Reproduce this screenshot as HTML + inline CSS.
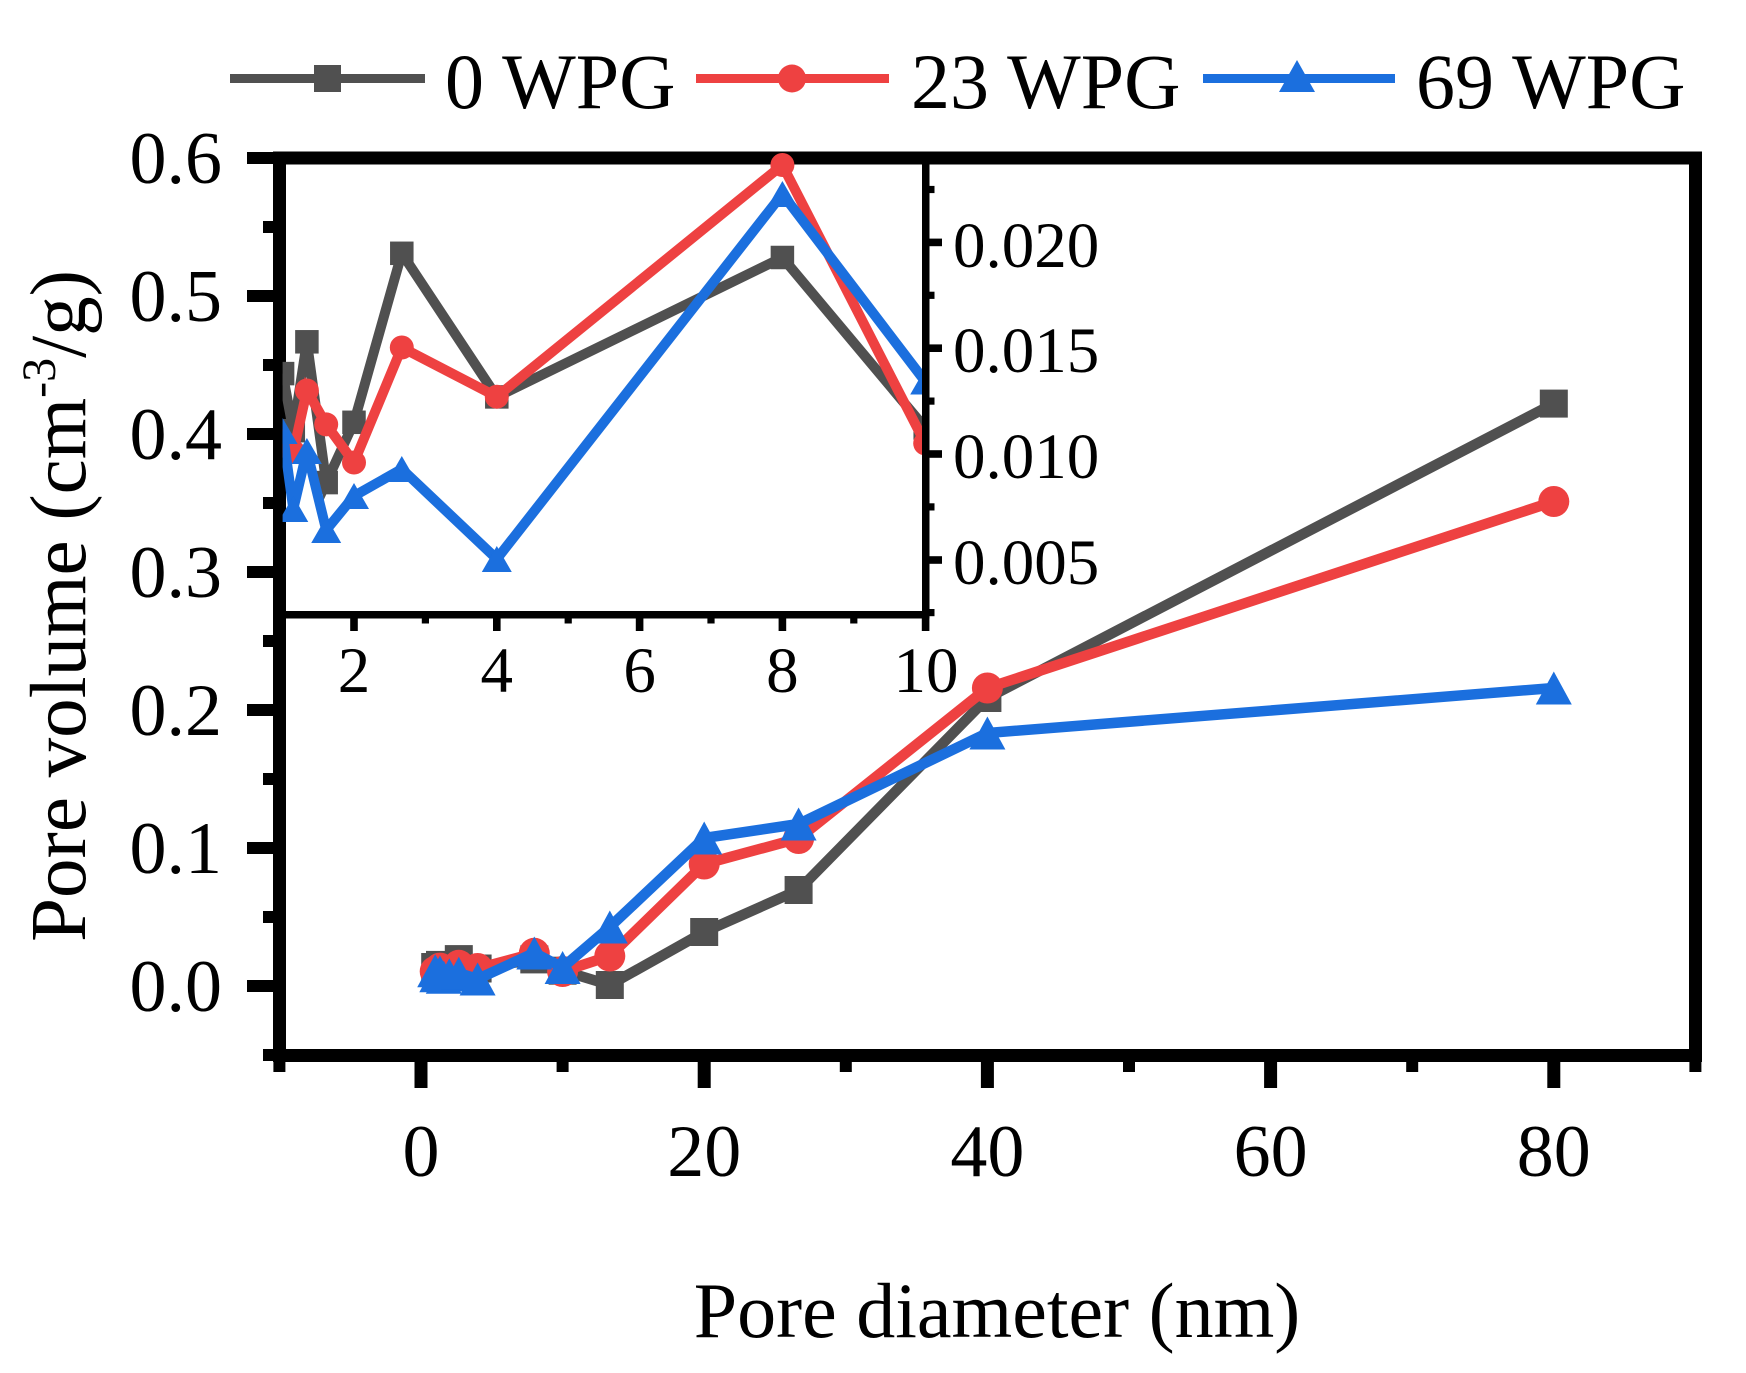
<!DOCTYPE html>
<html>
<head>
<meta charset="utf-8">
<style>
html,body{margin:0;padding:0;background:#fff;}
svg{display:block;}
text{font-family:"Liberation Serif","Times New Roman",serif;fill:#000;}
</style>
</head>
<body>
<svg width="1746" height="1373" viewBox="0 0 1746 1373" xmlns="http://www.w3.org/2000/svg">
<defs>
  <clipPath id="insetClip"><rect x="282.6" y="140" width="643" height="474.5"/></clipPath>
</defs>
<rect x="0" y="0" width="1746" height="1373" fill="#fff"/>

<!-- Legend -->
<g>
  <line x1="230" y1="78.5" x2="425" y2="78.5" stroke="#505050" stroke-width="9"/>
  <rect x="314" y="65" width="27" height="27" fill="#505050"/>
  <text x="445" y="108" font-size="78">0 WPG</text>
  <line x1="696" y1="78.5" x2="889" y2="78.5" stroke="#EE4141" stroke-width="9"/>
  <circle cx="792" cy="78.5" r="14" fill="#EE4141"/>
  <text x="911" y="108" font-size="78">23 WPG</text>
  <line x1="1203" y1="78.5" x2="1395" y2="78.5" stroke="#1B6FDE" stroke-width="9"/>
  <path d="M1297,60 L1315,92 L1279,92 Z" fill="#1B6FDE"/>
  <text x="1416" y="108" font-size="78">69 WPG</text>
</g>

<!-- Main frame -->
<rect x="279.5" y="158" width="1416" height="897.5" fill="none" stroke="#000" stroke-width="13"/>

<!-- Y ticks main -->
<g fill="#000">
  <rect x="247" y="980" width="27" height="12"/>
  <rect x="247" y="842" width="27" height="12"/>
  <rect x="247" y="704" width="27" height="12"/>
  <rect x="247" y="566" width="27" height="12"/>
  <rect x="247" y="428" width="27" height="12"/>
  <rect x="247" y="290" width="27" height="12"/>
  <rect x="247" y="152" width="27" height="12"/>
  <rect x="263" y="1049" width="11" height="12"/>
  <rect x="263" y="911" width="11" height="12"/>
  <rect x="263" y="773" width="11" height="12"/>
  <rect x="263" y="635" width="11" height="12"/>
  <rect x="263" y="497" width="11" height="12"/>
  <rect x="263" y="359" width="11" height="12"/>
  <rect x="263" y="221" width="11" height="12"/>
</g>
<!-- X ticks main -->
<g fill="#000">
  <rect x="414.5" y="1061" width="13" height="27"/>
  <rect x="697.7" y="1061" width="13" height="27"/>
  <rect x="980.9" y="1061" width="13" height="27"/>
  <rect x="1264.1" y="1061" width="13" height="27"/>
  <rect x="1547.3" y="1061" width="13" height="27"/>
  <rect x="273.4" y="1061" width="12" height="11"/>
  <rect x="556.6" y="1061" width="12" height="11"/>
  <rect x="839.8" y="1061" width="12" height="11"/>
  <rect x="1123" y="1061" width="12" height="11"/>
  <rect x="1406.2" y="1061" width="12" height="11"/>
  <rect x="1689.4" y="1061" width="12" height="11"/>
</g>

<!-- Y tick labels main -->
<g font-size="74" text-anchor="end">
  <text x="222" y="1011">0.0</text>
  <text x="222" y="873">0.1</text>
  <text x="222" y="735">0.2</text>
  <text x="222" y="597">0.3</text>
  <text x="222" y="459">0.4</text>
  <text x="222" y="321">0.5</text>
  <text x="222" y="183">0.6</text>
</g>
<!-- X tick labels main -->
<g font-size="74" text-anchor="middle">
  <text x="421" y="1176">0</text>
  <text x="704.2" y="1176">20</text>
  <text x="987.4" y="1176">40</text>
  <text x="1270.6" y="1176">60</text>
  <text x="1553.8" y="1176">80</text>
</g>

<!-- Axis titles -->
<text x="997" y="1337" font-size="78" text-anchor="middle">Pore diameter (nm)</text>
<text transform="translate(85,606) rotate(-90)" font-size="79" text-anchor="middle">Pore volume (cm<tspan dy="-30" font-size="48">-3</tspan><tspan dy="30">/g)</tspan></text>

<!-- Main series: gray -->
<g>
  <polyline fill="none" stroke="#505050" stroke-width="10.5" stroke-linejoin="miter"
    points="435.2,967 437.3,970.7 440,964.9 443.8,974.1 449.3,970.1 458.8,959.1 477.6,968.5 534.3,959.4 562.6,970.7 609.8,985 704.2,932 798.6,890 987.4,698 1553.8,403.6"/>
  <g fill="#505050">
    <rect x="421.2" y="953" width="28" height="28"/>
    <rect x="423.3" y="956.7" width="28" height="28"/>
    <rect x="426" y="950.9" width="28" height="28"/>
    <rect x="429.8" y="960.1" width="28" height="28"/>
    <rect x="435.3" y="956.1" width="28" height="28"/>
    <rect x="444.8" y="945.1" width="28" height="28"/>
    <rect x="463.6" y="954.5" width="28" height="28"/>
    <rect x="520.3" y="945.4" width="28" height="28"/>
    <rect x="548.6" y="956.7" width="28" height="28"/>
    <rect x="595.8" y="971" width="28" height="28"/>
    <rect x="690.2" y="918" width="28" height="28"/>
    <rect x="784.6" y="876" width="28" height="28"/>
    <rect x="973.4" y="684" width="28" height="28"/>
    <rect x="1539.8" y="389.6" width="28" height="28"/>
  </g>
</g>
<!-- Main series: red -->
<g>
  <polyline fill="none" stroke="#EE4141" stroke-width="10.5"
    points="435.2,971.4 437.3,972.1 440,968.1 443.8,970.3 449.3,972.8 458.8,965.3 477.6,968.5 534.3,953.3 562.6,971.5 609.8,956 704.2,864 798.6,838.5 987.4,688 1553.8,501.5"/>
  <g fill="#EE4141">
    <circle cx="435.2" cy="971.4" r="15.5"/>
    <circle cx="437.3" cy="972.1" r="15.5"/>
    <circle cx="440" cy="968.1" r="15.5"/>
    <circle cx="443.8" cy="970.3" r="15.5"/>
    <circle cx="449.3" cy="972.8" r="15.5"/>
    <circle cx="458.8" cy="965.3" r="15.5"/>
    <circle cx="477.6" cy="968.5" r="15.5"/>
    <circle cx="534.3" cy="953.3" r="15.5"/>
    <circle cx="562.6" cy="971.5" r="15.5"/>
    <circle cx="609.8" cy="956" r="15.5"/>
    <circle cx="704.2" cy="864" r="15.5"/>
    <circle cx="798.6" cy="838.5" r="15.5"/>
    <circle cx="987.4" cy="688" r="15.5"/>
    <circle cx="1553.8" cy="501.5" r="15.5"/>
  </g>
</g>
<!-- Main series: blue -->
<g>
  <polyline fill="none" stroke="#1B6FDE" stroke-width="10.5"
    points="435.2,970.7 437.3,975.8 440,972 443.8,977.2 449.3,974.9 458.8,973.2 477.6,979 534.3,953 562.6,967.5 609.8,927 704.2,838 798.6,824 987.4,733 1553.8,688"/>
  <g fill="#1B6FDE">
    <path d="M435.2,954.2 L453.2,987.2 L417.2,987.2 Z"/>
    <path d="M437.3,959.3 L455.3,992.3 L419.3,992.3 Z"/>
    <path d="M440,955.5 L458,988.5 L422,988.5 Z"/>
    <path d="M443.8,960.7 L461.8,993.7 L425.8,993.7 Z"/>
    <path d="M449.3,958.4 L467.3,991.4 L431.3,991.4 Z"/>
    <path d="M458.8,956.7 L476.8,989.7 L440.8,989.7 Z"/>
    <path d="M477.6,962.5 L495.6,995.5 L459.6,995.5 Z"/>
    <path d="M534.3,936.5 L552.3,969.5 L516.3,969.5 Z"/>
    <path d="M562.6,951 L580.6,984 L544.6,984 Z"/>
    <path d="M609.8,910.5 L627.8,943.5 L591.8,943.5 Z"/>
    <path d="M704.2,821.5 L722.2,854.5 L686.2,854.5 Z"/>
    <path d="M798.6,807.5 L816.6,840.5 L780.6,840.5 Z"/>
    <path d="M987.4,716.5 L1005.4,749.5 L969.4,749.5 Z"/>
    <path d="M1553.8,671.5 L1571.8,704.5 L1535.8,704.5 Z"/>
  </g>
</g>

<!-- Inset data -->
<g clip-path="url(#insetClip)">
  <polyline fill="none" stroke="#505050" stroke-width="10"
    points="282.6,373.6 293.3,430.7 306.9,341.8 326.2,482.6 354,422.3 401.8,253.3 496.8,396.9 782.4,257.5 925.2,428"/>
  <g fill="#505050">
    <rect x="270.85" y="361.85" width="23.5" height="23.5"/>
    <rect x="281.55" y="418.95" width="23.5" height="23.5"/>
    <rect x="295.15" y="330.05" width="23.5" height="23.5"/>
    <rect x="314.45" y="470.85" width="23.5" height="23.5"/>
    <rect x="342.25" y="410.55" width="23.5" height="23.5"/>
    <rect x="390.05" y="241.55" width="23.5" height="23.5"/>
    <rect x="485.05" y="385.15" width="23.5" height="23.5"/>
    <rect x="770.65" y="245.75" width="23.5" height="23.5"/>
    <rect x="913.45" y="416.25" width="23.5" height="23.5"/>
  </g>
  <polyline fill="none" stroke="#EE4141" stroke-width="10"
    points="282.6,441.3 293.3,451.9 306.9,390.5 326.2,424.4 354,462.5 401.8,347.5 496.8,396.7 782.4,165 925.2,443.4"/>
  <g fill="#EE4141">
    <circle cx="282.6" cy="441.3" r="12"/>
    <circle cx="293.3" cy="451.9" r="12"/>
    <circle cx="306.9" cy="390.5" r="12"/>
    <circle cx="326.2" cy="424.4" r="12"/>
    <circle cx="354" cy="462.5" r="12"/>
    <circle cx="401.8" cy="347.5" r="12"/>
    <circle cx="496.8" cy="396.7" r="12"/>
    <circle cx="782.4" cy="165" r="12"/>
    <circle cx="925.2" cy="443.4" r="12"/>
  </g>
  <polyline fill="none" stroke="#1B6FDE" stroke-width="10"
    points="282.6,431 293.3,509 306.9,451 326.2,530 354,496 401.8,469 496.8,559 782.4,194 925.2,381.5"/>
  <g fill="#1B6FDE">
    <path d="M282.6,418 L297.6,444 L267.6,444 Z"/>
    <path d="M293.3,496 L308.3,522 L278.3,522 Z"/>
    <path d="M306.9,438 L321.9,464 L291.9,464 Z"/>
    <path d="M326.2,517 L341.2,543 L311.2,543 Z"/>
    <path d="M354,483 L369,509 L339,509 Z"/>
    <path d="M401.8,456 L416.8,482 L386.8,482 Z"/>
    <path d="M496.8,546 L511.8,572 L481.8,572 Z"/>
    <path d="M782.4,181 L797.4,207 L767.4,207 Z"/>
    <path d="M925.2,368.5 L940.2,394.5 L910.2,394.5 Z"/>
  </g>
</g>

<!-- Inset axes -->
<g fill="#000">
  <rect x="283" y="611" width="646" height="7.5"/>
  <rect x="922" y="158" width="7.5" height="460.5"/>
  <!-- bottom ticks -->
  <rect x="350.2" y="618" width="7.6" height="13"/>
  <rect x="493" y="618" width="7.6" height="13"/>
  <rect x="635.8" y="618" width="7.6" height="13"/>
  <rect x="778.6" y="618" width="7.6" height="13"/>
  <rect x="921.8" y="618" width="7.6" height="13"/>
  <rect x="421.8" y="618" width="7.2" height="5.5"/>
  <rect x="564.6" y="618" width="7.2" height="5.5"/>
  <rect x="707.4" y="618" width="7.2" height="5.5"/>
  <rect x="850.2" y="618" width="7.2" height="5.5"/>
  <!-- right ticks -->
  <rect x="929" y="556.2" width="13" height="7.6"/>
  <rect x="929" y="450.2" width="13" height="7.6"/>
  <rect x="929" y="344.4" width="13" height="7.6"/>
  <rect x="929" y="238.6" width="13" height="7.6"/>
  <rect x="929" y="609" width="5.5" height="7.2"/>
  <rect x="929" y="503.3" width="5.5" height="7.2"/>
  <rect x="929" y="397.5" width="5.5" height="7.2"/>
  <rect x="929" y="291.7" width="5.5" height="7.2"/>
  <rect x="929" y="185.9" width="5.5" height="7.2"/>
</g>
<g font-size="65" text-anchor="middle">
  <text x="354" y="692">2</text>
  <text x="496.8" y="692">4</text>
  <text x="639.6" y="692">6</text>
  <text x="782.4" y="692">8</text>
  <text x="926" y="692">10</text>
</g>
<g font-size="65">
  <text x="953" y="584">0.005</text>
  <text x="953" y="478">0.010</text>
  <text x="953" y="372">0.015</text>
  <text x="953" y="267">0.020</text>
</g>
</svg>
</body>
</html>
